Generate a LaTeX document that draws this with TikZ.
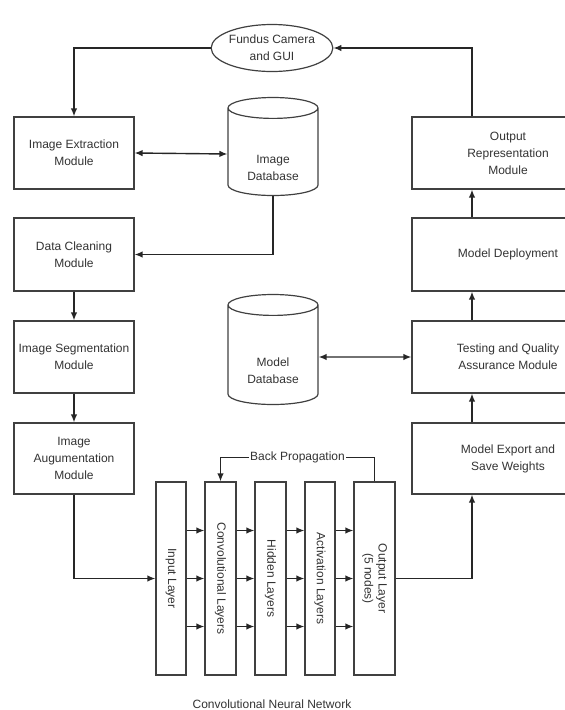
\documentclass[tikz,border=0pt]{standalone}
\usepackage{fontspec}
\setmainfont{Liberation Sans}
\usetikzlibrary{arrows.meta,shapes.geometric}

\begin{document}
\begin{tikzpicture}[>={Latex[length=8pt,width=6.5pt]},x=1pt,y=-1pt,
	module/.style={draw=darkgray,line width=1.2pt,rectangle,minimum width=120pt,minimum height=72pt,align=center,font=\fontsize{12}{17}\selectfont,text=black!80},
	widemodule/.style={module,minimum width=192pt},
	database/.style={draw=darkgray,line width=1.2pt,cylinder,shape border rotate=90,aspect=0.36,minimum width=90pt,align=center,font=\fontsize{12}{17}\selectfont,text=black!80},
	layer/.style={draw=darkgray,line width=1.2pt,rectangle,minimum width=193pt,align=center,rotate=-90,font=\fontsize{12}{14}\selectfont,text=black!80},
	link/.style={line width=1.4pt,color=black!85}]

\definecolor{darkgray}{rgb}{0.25,0.25,0.25}
\useasboundingbox (0,0) rectangle (565,710);

% input side
\node[ellipse,draw=darkgray,line width=1.2pt,minimum width=119pt,minimum height=47pt,align=center,font=\fontsize{12}{17}\selectfont,text=black!80,inner sep=0pt] (cam) at (272,48) {Fundus Camera\\and GUI};
\node[module] (extract) at (74,153) {Image Extraction\\Module};
\node[module,minimum height=73pt] (clean) at (74,254.5) {Data Cleaning\\Module};
\node[module] (segment) at (74,357) {Image Segmentation\\Module};
\node[module,minimum height=71pt] (augment) at (74,458.5) {Image\\Augumentation\\Module};

\node[database,minimum height=98pt] (imgdb) at (273,154) {\\[20pt]Image\\Database};
\node[database,minimum height=110pt] (moddb) at (273,357) {\\[20pt]Model\\Database};

% output side
\node[widemodule] (outrep) at (508,153) {Output\\Representation\\Module};
\node[widemodule,minimum height=73pt] (deploy) at (508,254.5) {Model Deployment};
\node[widemodule] (testing) at (508,357) {Testing and Quality\\Assurance Module};
\node[widemodule,minimum height=71pt] (export) at (508,458.5) {Model Export and\\Save Weights};

% network layers
\node[layer,minimum height=30pt] (input) at (171,578.5) {Input Layer};
\node[layer,minimum height=31pt] (conv) at (220.5,578.5) {Convolutional Layers};
\node[layer,minimum height=31pt] (hidden) at (270.5,578.5) {Hidden Layers};
\node[layer,minimum height=30pt] (activ) at (320,578.5) {Activation Layers};
\node[layer,minimum height=41pt] (outl) at (374.5,578.5) {Output Layer\\(5 nodes)};

\node[font=\fontsize{12}{14}\selectfont,text=black!80] (cnn) at (272,704) {Convolutional Neural Network};

\draw[link,->] (cam.west) -| (extract.north);
\draw[link,<->] (extract.east) -- (imgdb.west);
\draw[link,->] (imgdb.south) |- (clean.east);
\draw[link,->] (clean) -- (segment);
\draw[link,->] (segment) -- (augment);
\draw[link,->] (augment.south) |- (input.south);

\foreach \a/\b in {input/conv,conv/hidden,hidden/activ,activ/outl}{
	\foreach \d in {-48,0,48}{
		\draw[link,->] ([yshift=\d pt]\a.north) -- ([yshift=\d pt]\b.south);
	}
}

\draw[link,->] (outl.west) -- ++(0,-24) -| node[pos=0.25,fill=white,inner sep=1pt,font=\fontsize{12}{14}\selectfont,text=black!80] (bp) {Back Propagation} (conv.west);
\draw[link,->] (outl.north) -| ([xshift=-36pt]export.south);
\draw[link,->] ([xshift=-36pt]export.north) -- ([xshift=-36pt]testing.south);
\draw[link,->] ([xshift=-36pt]testing.north) -- ([xshift=-36pt]deploy.south);
\draw[link,->] ([xshift=-36pt]deploy.north) -- ([xshift=-36pt]outrep.south);
\draw[link,->] ([xshift=-36pt]outrep.north) |- (cam.east);
\draw[link,<->] (moddb.east) -- (testing.west);

\end{tikzpicture}
\end{document}
